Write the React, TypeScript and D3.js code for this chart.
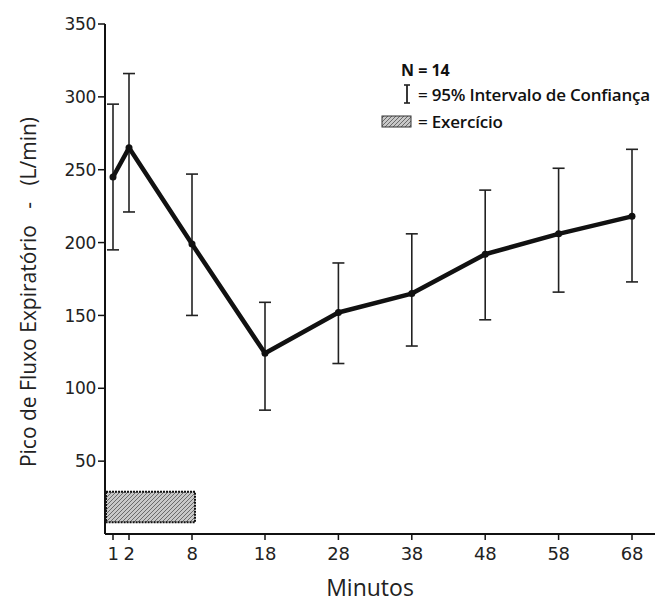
import React, { useEffect, useRef } from 'react';
import * as d3 from 'd3';

// minutos e valores (L/min)
const minutes = [1, 2, 8, 18, 28, 38, 48, 58, 68];
const means = [245, 265, 199, 124, 152, 165, 192, 206, 218];
const ciUpper = [295, 316, 247, 159, 186, 206, 236, 251, 264];
const ciLower = [195, 221, 150, 85, 117, 129, 147, 166, 173];
const yTicks = [50, 100, 150, 200, 250, 300, 350];
const xTickLabels = ['1', '2', '8', '18', '28', '38', '48', '58', '68'];
const exerciseMinutes = [0, 8];

const tickFont = '"DejaVu Sans", sans-serif';
const textFont = '"Open Sans", sans-serif';

const App = () => {
    const svgRef = useRef<SVGSVGElement>(null);

    useEffect(() => {
        const svg = d3.select(svgRef.current);
        svg.selectAll('*').remove();

        const axisX = 105; // posição do eixo y
        const axisY = 534; // posição do eixo x

        // eixo x não linear no início (1, 2, 8 minutos)
        const x = d3.scaleLinear()
            .domain([0, 1, 2, 8, 18, 68])
            .range([axisX, 113, 129, 192, 265, 632]);

        const y = d3.scaleLinear()
            .domain([0, 350])
            .range([axisY, 24]);

        // padrão hachurado para o exercício
        const defs = svg.append('defs');
        const pat = defs.append('pattern')
            .attr('id', 'hatch')
            .attr('patternUnits', 'userSpaceOnUse')
            .attr('width', 4)
            .attr('height', 4);
        pat.append('rect').attr('width', 4).attr('height', 4).attr('fill', '#c8c8c8');
        pat.append('path')
            .attr('d', 'M-1,1 l2,-2 M0,4 l4,-4 M3,5 l2,-2')
            .attr('stroke', '#6a6a6a')
            .attr('stroke-width', 1);

        // eixos
        svg.append('line')
            .attr('x1', axisX).attr('x2', axisX)
            .attr('y1', y(350)).attr('y2', axisY)
            .attr('stroke', '#111').attr('stroke-width', 2);
        svg.append('line')
            .attr('x1', axisX).attr('x2', 655)
            .attr('y1', axisY).attr('y2', axisY)
            .attr('stroke', '#111').attr('stroke-width', 2);

        // ticks do eixo y
        const yt = svg.append('g');
        yTicks.forEach(v => {
            yt.append('line')
                .attr('x1', axisX - 7).attr('x2', axisX)
                .attr('y1', y(v)).attr('y2', y(v))
                .attr('stroke', '#111').attr('stroke-width', 1.5);
            yt.append('text')
                .attr('x', axisX - 9)
                .attr('y', y(v))
                .attr('dy', '0.36em')
                .attr('text-anchor', 'end')
                .attr('font-family', tickFont)
                .attr('font-size', '17px')
                .attr('fill', '#222')
                .attr('letter-spacing', '-0.3')
                .text(v);
        });

        // ticks do eixo x
        const xt = svg.append('g');
        minutes.forEach((m, i) => {
            xt.append('line')
                .attr('x1', x(m)).attr('x2', x(m))
                .attr('y1', axisY).attr('y2', axisY + 6)
                .attr('stroke', '#111').attr('stroke-width', 1.5);
            xt.append('text')
                .attr('x', x(m))
                .attr('y', axisY + 26)
                .attr('text-anchor', 'middle')
                .attr('font-family', tickFont)
                .attr('font-size', '18px')
                .attr('fill', '#222')
                .attr('letter-spacing', '-0.3')
                .text(xTickLabels[i]);
        });

        // barra de exercício
        svg.append('rect')
            .attr('x', x(exerciseMinutes[0]) + 1)
            .attr('y', y(29))
            .attr('width', x(exerciseMinutes[1]) + 3 - x(exerciseMinutes[0]) - 1)
            .attr('height', y(8) - y(29))
            .attr('fill', 'url(#hatch)')
            .attr('stroke', '#111')
            .attr('stroke-width', 2)
            .attr('stroke-dasharray', '2,1');

        // barras de erro
        const eb = svg.append('g').attr('stroke', '#222').attr('stroke-width', 1.6);
        minutes.forEach((m, i) => {
            const cx = x(m);
            eb.append('line')
                .attr('x1', cx).attr('x2', cx)
                .attr('y1', y(ciUpper[i])).attr('y2', y(ciLower[i]));
            eb.append('line')
                .attr('x1', cx - 6).attr('x2', cx + 6)
                .attr('y1', y(ciUpper[i])).attr('y2', y(ciUpper[i]));
            eb.append('line')
                .attr('x1', cx - 6).attr('x2', cx + 6)
                .attr('y1', y(ciLower[i])).attr('y2', y(ciLower[i]));
        });

        // linha das médias
        const line = d3.line<number>()
            .x((d, i) => x(minutes[i]))
            .y(d => y(d));
        svg.append('path')
            .datum(means)
            .attr('fill', 'none')
            .attr('stroke', '#111')
            .attr('stroke-width', 4.5)
            .attr('stroke-linejoin', 'round')
            .attr('d', line);
        svg.selectAll('circle.pt')
            .data(means)
            .enter()
            .append('circle')
            .attr('class', 'pt')
            .attr('cx', (d, i) => x(minutes[i]))
            .attr('cy', d => y(d))
            .attr('r', 3.5)
            .attr('fill', '#111');

        // título do eixo y
        svg.append('text')
            .attr('transform', `translate(36, 292) rotate(-90)`)
            .attr('text-anchor', 'middle')
            .attr('font-family', textFont)
            .attr('font-size', '21px')
            .attr('fill', '#222')
            .style('white-space', 'pre')
            .text('Pico de Fluxo Expiratório   -   (L/min)');

        // título do eixo x
        svg.append('text')
            .attr('x', 370)
            .attr('y', 596)
            .attr('text-anchor', 'middle')
            .attr('font-family', textFont)
            .attr('font-size', '23px')
            .attr('fill', '#222')
            .text('Minutos');

        // legenda
        const lg = svg.append('g')
            .attr('font-family', textFont)
            .attr('fill', '#111');
        lg.append('text')
            .attr('x', 401).attr('y', 76)
            .attr('font-size', '16px')
            .attr('font-weight', 'bold')
            .text('N = 14');
        const ix = 407;
        lg.append('line').attr('x1', ix).attr('x2', ix).attr('y1', 85).attr('y2', 103)
            .attr('stroke', '#222').attr('stroke-width', 1.8);
        lg.append('line').attr('x1', ix - 3).attr('x2', ix + 3).attr('y1', 85).attr('y2', 85)
            .attr('stroke', '#222').attr('stroke-width', 1.6);
        lg.append('line').attr('x1', ix - 3).attr('x2', ix + 3).attr('y1', 103).attr('y2', 103)
            .attr('stroke', '#222').attr('stroke-width', 1.6);
        lg.append('text')
            .attr('x', 418).attr('y', 101)
            .attr('font-size', '17px')
            .attr('font-weight', 600)
            .attr('letter-spacing', '-0.2')
            .text('= 95% Intervalo de Confiança');
        lg.append('rect')
            .attr('x', 382).attr('y', 116)
            .attr('width', 29).attr('height', 11)
            .attr('fill', 'url(#hatch)')
            .attr('stroke', '#333')
            .attr('stroke-width', 1);
        lg.append('text')
            .attr('x', 418).attr('y', 128)
            .attr('font-size', '17px')
            .attr('font-weight', 600)
            .attr('letter-spacing', '-0.2')
            .text('= Exercício');
    }, []);

    return (
        <svg
            ref={svgRef}
            width={662}
            height={605}
            style={{ position: 'absolute', left: 0, top: 0, background: '#fff' }}
        />
    );
};

export default App;
